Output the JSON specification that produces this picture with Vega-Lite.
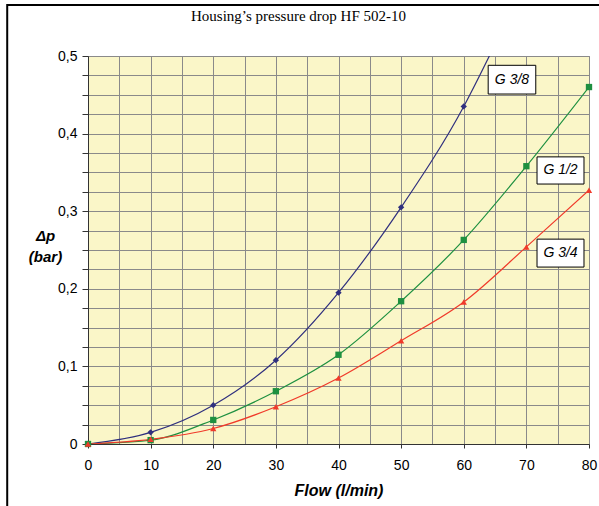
{
  "$schema": "https://vega.github.io/schema/vega-lite/v6.json",
  "width": 501,
  "height": 388,
  "autosize": {"type": "none"},
  "padding": {"left": 88, "top": 56, "right": 10, "bottom": 62},
  "background": "white",
  "title": {
    "text": "Housing’s pressure drop HF 502-10",
    "font": "Liberation Serif",
    "fontSize": 15,
    "fontWeight": "normal",
    "color": "black",
    "anchor": "middle",
    "frame": "group",
    "dx": -40,
    "offset": -20
  },
  "config": {
    "view": {"fill": "#FAF6C8", "stroke": "#888888", "strokeWidth": 1},
    "axis": {
      "labelFont": "Liberation Sans",
      "labelFontSize": 14,
      "labelColor": "black",
      "titleFont": "Liberation Sans",
      "titleColor": "black",
      "gridColor": "#8a8a8a",
      "gridOpacity": 1,
      "gridWidth": 1,
      "domainColor": "#333333",
      "tickColor": "#333333",
      "labelOverlap": false,
      "labelFlush": false
    }
  },
  "datasets": {
    "curves": [
      {"flow": 0, "dp": 0, "series": "G 3/8", "marker": true},
      {"flow": 10, "dp": 0.015, "series": "G 3/8", "marker": true},
      {"flow": 20, "dp": 0.05, "series": "G 3/8", "marker": true},
      {"flow": 30, "dp": 0.108, "series": "G 3/8", "marker": true},
      {"flow": 40, "dp": 0.195, "series": "G 3/8", "marker": true},
      {"flow": 50, "dp": 0.305, "series": "G 3/8", "marker": true},
      {"flow": 60, "dp": 0.435, "series": "G 3/8", "marker": true},
      {"flow": 65, "dp": 0.515, "series": "G 3/8", "marker": false},
      {"flow": 0, "dp": 0, "series": "G 1/2", "marker": true},
      {"flow": 10, "dp": 0.005, "series": "G 1/2", "marker": true},
      {"flow": 20, "dp": 0.031, "series": "G 1/2", "marker": true},
      {"flow": 30, "dp": 0.068, "series": "G 1/2", "marker": true},
      {"flow": 40, "dp": 0.115, "series": "G 1/2", "marker": true},
      {"flow": 50, "dp": 0.184, "series": "G 1/2", "marker": true},
      {"flow": 60, "dp": 0.263, "series": "G 1/2", "marker": true},
      {"flow": 70, "dp": 0.358, "series": "G 1/2", "marker": true},
      {"flow": 80, "dp": 0.46, "series": "G 1/2", "marker": true},
      {"flow": 0, "dp": 0, "series": "G 3/4", "marker": true},
      {"flow": 10, "dp": 0.006, "series": "G 3/4", "marker": true},
      {"flow": 20, "dp": 0.02, "series": "G 3/4", "marker": true},
      {"flow": 30, "dp": 0.048, "series": "G 3/4", "marker": true},
      {"flow": 40, "dp": 0.085, "series": "G 3/4", "marker": true},
      {"flow": 50, "dp": 0.133, "series": "G 3/4", "marker": true},
      {"flow": 60, "dp": 0.183, "series": "G 3/4", "marker": true},
      {"flow": 70, "dp": 0.254, "series": "G 3/4", "marker": true},
      {"flow": 80, "dp": 0.327, "series": "G 3/4", "marker": true}
    ],
    "labels": [
      {"series": "G 3/8", "x1": 63.9, "x2": 71.5, "y1": 0.488, "y2": 0.451, "xm": 67.7, "ym": 0.4695},
      {"series": "G 1/2", "x1": 71.7, "x2": 79.2, "y1": 0.37, "y2": 0.335, "xm": 75.45, "ym": 0.3525},
      {"series": "G 3/4", "x1": 71.7, "x2": 79.2, "y1": 0.264, "y2": 0.228, "xm": 75.45, "ym": 0.246}
    ],
    "frame": [
      {"x1": -12.9, "x2": 95, "y1": 0.5657, "y2": -0.2}
    ]
  },
  "layer": [
    {
      "data": {"name": "curves"},
      "mark": {"type": "line", "interpolate": "monotone", "strokeWidth": 1.2, "clip": true},
      "encoding": {
        "x": {
          "field": "flow", "type": "quantitative",
          "scale": {"domain": [0, 80], "nice": false, "zero": false},
          "axis": {
            "values": [0, 5, 10, 15, 20, 25, 30, 35, 40, 45, 50, 55, 60, 65, 70, 75, 80],
            "tickCount": 40,
            "labelExpr": "datum.value % 10 == 0 ? datum.label : ''",
            "tickSize": 4,
            "tickOpacity": {"condition": {"test": "datum.value % 10 != 0", "value": 0}, "value": 1},
            "labelPadding": 10,
            "title": "Flow (l/min)",
            "titleFontSize": 16,
            "titleFontWeight": "bold",
            "titleFontStyle": "italic",
            "titlePadding": 10
          }
        },
        "y": {
          "field": "dp", "type": "quantitative",
          "scale": {"domain": [0, 0.5], "nice": false, "zero": false},
          "axis": {
            "values": [0, 0.025, 0.05, 0.075, 0.1, 0.125, 0.15, 0.175, 0.2, 0.225, 0.25, 0.275, 0.3, 0.325, 0.35, 0.375, 0.4, 0.425, 0.45, 0.475, 0.5],
            "tickCount": 40,
            "labelExpr": "abs(datum.value * 10 - round(datum.value * 10)) < 0.001 ? (datum.value == 0 ? '0' : replace(format(datum.value, '.1f'), '.', ',')) : ''",
            "tickSize": 6,
            "labelPadding": 5,
            "title": ["Δp", "(bar)"],
            "titleAngle": 0,
            "titleFontSize": 15,
            "titleFontWeight": "bold",
            "titleFontStyle": "italic",
            "titleAlign": "center",
            "titleBaseline": "top",
            "titleX": -43,
            "titleY": 172,
            "titleLineHeight": 21
          }
        },
        "color": {
          "field": "series", "type": "nominal",
          "scale": {"domain": ["G 3/8", "G 1/2", "G 3/4"], "range": ["#2F2F7E", "#1E9040", "#F03A2A"]},
          "legend": null
        },
        "detail": {"field": "series"}
      }
    },
    {
      "data": {"name": "curves"},
      "transform": [{"filter": "datum.marker"}],
      "mark": {"type": "point", "filled": true, "opacity": 1, "size": 40},
      "encoding": {
        "x": {"field": "flow", "type": "quantitative"},
        "y": {"field": "dp", "type": "quantitative"},
        "color": {"field": "series", "type": "nominal", "legend": null},
        "shape": {
          "field": "series", "type": "nominal",
          "scale": {"domain": ["G 3/8", "G 1/2", "G 3/4"], "range": ["diamond", "square", "triangle-up"]},
          "legend": null
        }
      }
    },
    {
      "data": {"name": "labels"},
      "mark": {"type": "rect", "fill": "white", "stroke": "black", "strokeWidth": 1},
      "encoding": {
        "x": {"field": "x1", "type": "quantitative"},
        "x2": {"field": "x2"},
        "y": {"field": "y1", "type": "quantitative"},
        "y2": {"field": "y2"}
      }
    },
    {
      "data": {"name": "labels"},
      "mark": {"type": "text", "font": "Liberation Sans", "fontSize": 14, "fontStyle": "italic", "color": "black", "align": "center", "baseline": "middle"},
      "encoding": {
        "x": {"field": "xm", "type": "quantitative"},
        "y": {"field": "ym", "type": "quantitative"},
        "text": {"field": "series"}
      }
    },
    {
      "data": {"name": "frame"},
      "mark": {"type": "rect", "fill": null, "stroke": "black", "strokeWidth": 2, "clip": false},
      "encoding": {
        "x": {"field": "x1", "type": "quantitative"},
        "x2": {"field": "x2"},
        "y": {"field": "y1", "type": "quantitative"},
        "y2": {"field": "y2"}
      }
    }
  ]
}
